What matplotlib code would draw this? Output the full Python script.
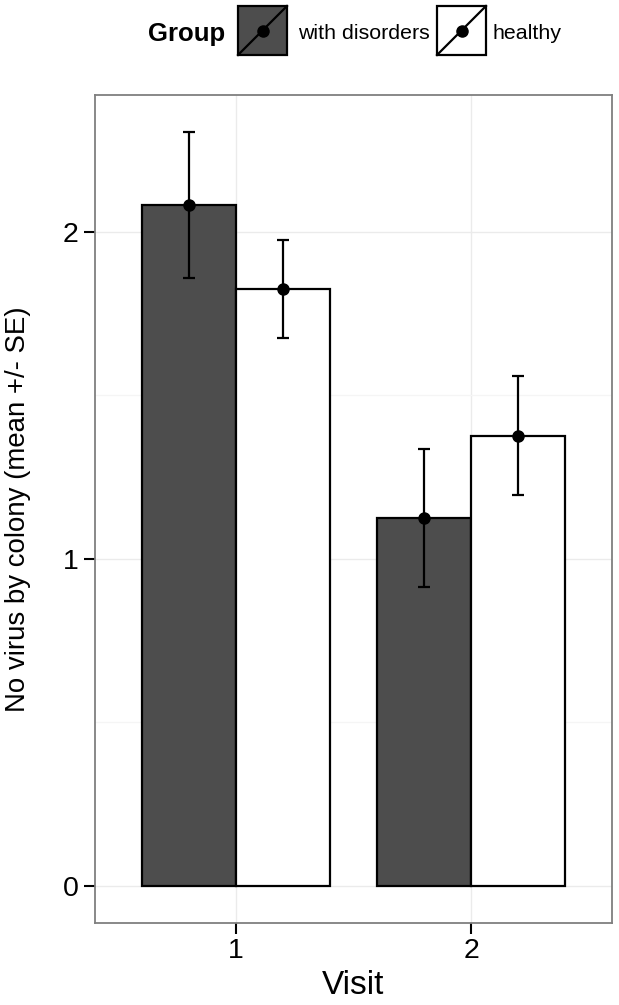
import matplotlib
matplotlib.use("Agg")
import matplotlib.pyplot as plt
import numpy as np
from matplotlib.patches import Rectangle
from matplotlib.lines import Line2D

plt.rcParams['font.family'] = ['Liberation Sans', 'DejaVu Sans']

visits = [1, 2]
visit_labels = ["1", "2"]
groups = ["with disorders", "healthy"]
dis_mean = [2.083, 1.124]
dis_se = [0.224, 0.211]
hea_mean = [1.825, 1.377]
hea_se = [0.150, 0.181]
colors = ["#4D4D4D", "#FFFFFF"]

W, H = 619, 1005
fig = plt.figure(figsize=(W / 100, H / 100), dpi=100)
L, R, T, B = 95.3, 611.7, 95, 923
ax = fig.add_axes([L / W, 1 - B / H, (R - L) / W, (B - T) / H])

x = np.array(visits, dtype=float)
bw = 0.4
for off, means, ses, col in [(-bw / 2, dis_mean, dis_se, colors[0]),
                             (bw / 2, hea_mean, hea_se, colors[1])]:
    ax.bar(x + off, means, width=bw, color=col, edgecolor='black',
           linewidth=1.6, zorder=2)
    ax.errorbar(x + off, means, yerr=ses, fmt='o', color='black',
                markersize=8, elinewidth=1.6, capsize=4.5, capthick=1.6,
                zorder=3)

ax.set_xlim(0.403, 2.598)
ax.set_ylim(-0.114, 2.419)
ax.set_xticks(visits)
ax.set_xticklabels(visit_labels)
ax.set_yticks([0, 1, 2])
ax.set_yticks([0.5, 1.5], minor=True)
ax.tick_params(axis='y', which='minor', length=0)
ax.grid(True, which='major', color='#EBEBEB', linewidth=1.0, zorder=0)
ax.grid(True, which='minor', axis='y', color='#F5F5F5', linewidth=1.0, zorder=0)
ax.set_axisbelow(True)
for s in ax.spines.values():
    s.set_color('#7F7F7F')
    s.set_linewidth(1.3)
ax.tick_params(axis='both', which='major', length=8, width=1.5,
               color='black', labelsize=20.5, labelcolor='black')
ax.tick_params(axis='y', which='major', pad=4)
ax.tick_params(axis='x', which='major', pad=3)

ax.set_xlabel("Visit", fontsize=24)
ax.xaxis.set_label_coords(0.5, (923 - 970) / (B - T))
ax.set_ylabel("No virus by colony (mean +/- SE)", fontsize=19.9)
ax.yaxis.set_label_coords((31 - L) / (R - L), 0.5)

# Legend drawn at the top
lax = fig.add_axes([0, 0, 1, 1])
lax.set_xlim(0, W)
lax.set_ylim(H, 0)
lax.axis('off')
lax.text(148, 33.5, "Group", fontsize=18.5, fontweight='bold', va='center', ha='left')
keys = [(238, 298, groups[0], colors[0]), (437, 492, groups[1], colors[1])]
for kx, tx, lab, col in keys:
    lax.add_patch(Rectangle((kx, 6), 49, 49, facecolor=col, edgecolor='black', linewidth=1.6))
    lax.add_line(Line2D([kx, kx + 49], [55, 6], color='black', linewidth=1.6))
    lax.plot([kx + 24.5], [30.5], 'o', color='black', markersize=8)
    lax.text(tx, 33.5, lab, fontsize=15.4, va='center', ha='left')

fig.savefig("out.png", dpi=100)
